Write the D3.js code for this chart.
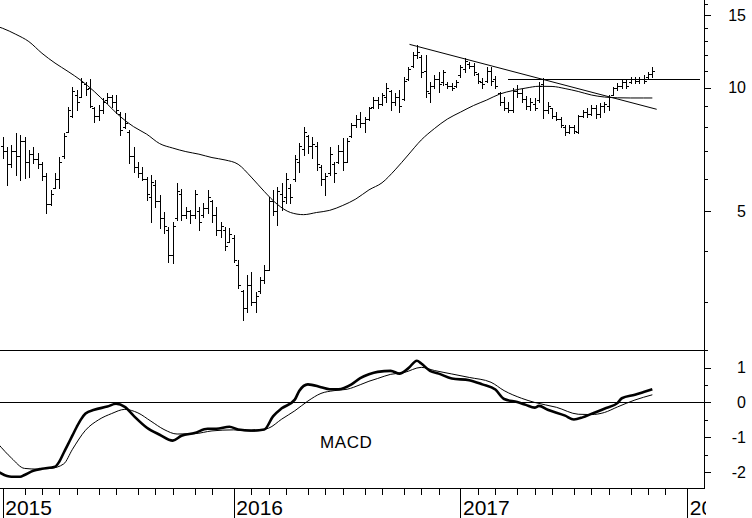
<!DOCTYPE html>
<html><head><meta charset="utf-8">
<script src="https://cdn.jsdelivr.net/npm/d3@7"></script>
<style>
html,body{margin:0;padding:0;background:#fff;}
svg{display:block;font-family:"Liberation Sans",Arial,sans-serif;}
</style></head><body>
<svg id="chart" width="752" height="518"></svg>
<script>
// ---- weekly OHLC (bar index 0 = first week of 2015) ----
const openP = [7.2,7.0,6.5,7.0,6.8,7.4,6.6,6.9,6.7,6.5,
6.1,5.2,5.7,6.0,6.8,7.8,8.5,9.6,9.5,10.2,
10.0,8.9,8.5,8.8,9.3,9.5,9.2,8.6,8.0,7.8,
6.8,6.4,6.2,6.0,5.4,5.8,5.3,4.8,4.5,3.9,
4.8,5.5,4.9,5.0,4.9,5.0,4.9,5.1,5.3,4.9,
4.5,4.5,4.2,4.3,3.7,3.2,2.9,3.3,3.0,3.2,
3.4,3.6,5.3,5.0,5.5,5.4,5.7,6.0,6.6,7.1,
7.6,7.2,7.2,6.4,6.0,6.2,6.5,6.6,7.0,6.6,
7.6,8.1,8.4,8.2,8.4,8.95,9.3,9.1,9.5,9.8,
9.2,9.5,9.4,10.5,11.3,12.0,11.9,11.0,9.7,10.1,
10.5,10.3,10.2,10.1,10.1,10.7,11.1,11.4,11.3,10.8,
10.3,10.4,11.0,10.5,9.7,9.2,8.9,8.8,9.8,9.7,
9.4,9.0,9.1,9.3,10.2,8.8,8.9,8.5,8.4,8.0,
7.8,8.0,7.8,8.5,8.7,8.6,8.9,8.6,9.0,9.0,
9.6,9.95,10.1,10.3,10.3,10.5,10.4,10.5,10.6,10.8];
const highP = [7.58,7.16,7.24,7.75,7.66,7.58,7.04,7.16,6.93,6.58,
6.19,5.63,6.19,6.78,7.75,8.94,10.03,9.86,10.55,10.32,
10.49,8.96,9.06,9.43,9.70,9.59,9.59,8.72,8.67,7.88,
7.16,6.58,6.40,6.05,6.12,5.95,5.47,4.97,4.57,4.70,
5.85,5.66,5.11,5.03,5.63,5.11,5.23,5.63,5.32,5.11,
4.70,4.57,4.54,4.37,3.80,3.21,3.49,3.55,3.17,3.45,
3.69,5.41,5.63,5.72,5.85,6.19,5.82,6.85,7.32,8.01,
7.66,7.58,7.37,6.47,6.19,7.16,6.58,7.24,7.54,7.54,
8.19,8.57,8.72,8.47,8.96,9.48,9.48,9.70,10.25,9.86,
9.70,9.86,10.61,11.22,12.21,12.69,12.00,12.00,10.32,10.73,
10.91,11.03,10.32,10.26,10.43,11.34,11.80,11.53,11.47,10.85,
10.55,11.22,11.22,10.67,9.75,9.48,9.22,9.97,10.14,9.92,
9.54,9.43,9.43,10.32,10.55,9.22,8.91,8.72,8.47,8.10,
8.10,8.10,8.57,8.82,8.91,9.06,9.06,9.16,9.22,9.59,
10.03,10.26,10.43,10.43,10.61,10.61,10.61,10.73,10.91,11.22];
const lowP = [6.74,5.79,6.40,6.12,5.95,6.02,6.05,6.55,6.37,5.95,
4.95,5.17,5.69,5.69,6.74,7.79,8.47,8.82,9.48,9.59,
8.96,8.24,8.33,8.67,9.16,8.96,8.67,7.66,7.97,6.55,
6.23,6.05,5.95,5.32,4.70,5.11,4.54,4.42,3.76,3.73,
4.75,4.75,4.81,4.67,4.81,4.49,4.84,4.95,4.70,4.37,
4.32,4.02,4.20,3.76,3.25,2.71,2.84,2.95,2.84,3.15,
3.34,3.59,4.89,4.62,5.03,5.23,5.23,5.92,6.23,6.85,
6.93,6.74,6.30,5.79,5.47,6.12,5.88,6.55,6.30,6.58,
7.58,8.01,8.01,7.79,8.33,8.91,8.91,9.06,9.22,8.82,
9.06,8.72,9.32,10.43,11.22,11.80,10.61,9.48,9.22,9.97,
9.75,10.14,9.97,9.86,10.03,10.61,10.91,11.16,10.73,10.26,
9.97,10.32,10.14,9.97,9.06,8.82,8.72,8.72,9.48,9.22,
8.87,8.82,8.82,9.22,8.43,8.67,8.43,8.33,8.01,7.66,
7.75,7.75,7.75,8.47,8.47,8.57,8.43,8.47,8.72,8.82,
9.59,9.86,9.97,9.97,10.26,10.26,10.26,10.26,10.55,10.61];
const closeP = [7.0,6.5,7.0,6.8,7.4,6.6,6.9,6.7,6.5,6.1,
5.2,5.5,6.0,6.6,7.6,8.8,9.8,9.2,10.3,9.9,
9.0,8.5,8.8,9.2,9.5,9.2,8.8,7.9,8.2,6.8,
6.4,6.2,6.0,5.5,5.9,5.3,4.8,4.6,3.9,4.6,
5.6,4.9,5.0,4.9,5.5,4.7,5.1,5.4,4.9,4.5,
4.6,4.1,4.4,3.8,3.3,2.9,3.3,3.0,3.1,3.4,
3.6,5.3,5.0,5.6,5.3,6.0,5.4,6.7,7.2,7.8,
7.2,7.3,6.5,6.0,6.1,6.9,6.2,7.0,6.6,7.4,
8.1,8.4,8.2,8.4,8.9,9.3,9.1,9.6,10.0,9.2,
9.5,9.0,10.4,11.1,12.0,12.2,10.9,9.8,10.1,10.5,
10.2,10.9,10.1,10.0,10.3,11.2,11.6,11.3,10.9,10.4,
10.2,11.0,10.4,10.1,9.2,8.9,8.8,9.8,9.7,9.4,
9.0,9.2,8.9,10.1,8.8,9.0,8.5,8.4,8.1,7.8,
8.0,7.85,8.5,8.7,8.6,8.9,8.6,9.0,9.1,9.5,
9.95,10.1,10.3,10.1,10.5,10.4,10.5,10.4,10.8,11.0];

// ---- moving average (bar index, price) ----
const maIdx = [-1,0,3,6,9,12,15,18,21,24,27,30,33,36,39,42,45,48,51,54,57,60,63,66,69,72,75,78,81,84,87,90,93,96,99,102,105,108,111,114,117,120,123,126,129,132,135,138,141,144,147,149];
const maVal = [14.06,13.94,13.48,12.94,12.12,11.47,10.94,10.40,9.78,9.11,8.49,8.03,7.70,7.30,7.12,6.98,6.88,6.75,6.66,6.50,6.05,5.58,5.19,4.96,4.90,4.96,5.02,5.16,5.35,5.63,5.86,6.30,6.85,7.45,7.94,8.38,8.71,9.04,9.32,9.64,9.83,9.97,10.07,10.06,9.94,9.78,9.59,9.48,9.44,9.43,9.43,9.43];

// ---- MACD (thick) and signal (thin) ----
const macdIdx = [-1,1,2,4,5,7,9,12,13,14,15,16,17,18,19,21,24,26,28,30,33,36,39,41,44,47,49,52,54,57,60,62,64,67,68,70,73,75,77,80,82,84,86,89,91,93,95,96,98,100,103,107,110,113,115,118,120,122,123,125,129,131,133,135,138,141,142,145,147,149];
const macdVal = [-2.00,-2.12,-2.14,-2.14,-2.09,-1.97,-1.91,-1.85,-1.70,-1.45,-1.20,-0.95,-0.70,-0.48,-0.32,-0.21,-0.12,-0.04,-0.13,-0.38,-0.72,-0.93,-1.10,-0.96,-0.88,-0.76,-0.76,-0.70,-0.78,-0.81,-0.78,-0.40,-0.17,0.08,0.33,0.52,0.44,0.38,0.38,0.52,0.70,0.81,0.88,0.91,0.83,0.98,1.20,1.12,0.91,0.83,0.69,0.64,0.52,0.37,0.10,0.01,-0.07,-0.15,-0.10,-0.21,-0.38,-0.49,-0.43,-0.33,-0.18,-0.02,0.12,0.22,0.30,0.38];
const sigIdx = [-1,2,5,8,11,14,16,19,22,25,28,31,34,37,40,44,48,53,57,61,64,67,70,73,76,79,82,84,86,89,92,96,99,103,107,112,115,119,122,127,132,135,138,141,145,149];
const sigVal = [-1.20,-1.60,-1.90,-1.92,-1.90,-1.77,-1.35,-0.80,-0.50,-0.32,-0.20,-0.30,-0.54,-0.78,-0.91,-0.90,-0.82,-0.79,-0.83,-0.74,-0.48,-0.24,0.04,0.26,0.34,0.38,0.51,0.61,0.69,0.81,0.86,1.01,0.92,0.82,0.72,0.58,0.34,0.12,0.00,-0.14,-0.34,-0.35,-0.29,-0.13,0.07,0.22];

// ---- trend lines (bar index, price) ----
const trendDownIdx = [93.3, 150.0];
const trendDownVal = [12.74, 8.85];
const resistIdx = [115.9, 159.9];
const resistVal = [10.48, 10.48];

// ---- axis ticks ----
const monthStarts = [0,5,9,13,17,22,26,31,35,39,44,48,53,57,61,65,70,74,78,83,87,92,96,100,105,109,113,118,122,126,131,135,139,144,148,152,157];
const yearStarts = [0,53,105,157];
const yearLabels = ["2015","2016","2017","2018"];
const priceMajor = [5,10,15];
const priceMinor = [3,4,6,7,8,9,11,12,13,14,16];
const macdMajor = [-2,-1,0,1];
const macdMinor = [-1.5,-0.5,0.5,1.5];

const svg = d3.select("#chart");
const axisX = 704;
const x = d3.scaleLinear().domain([-0.62, 160.85]).range([0, axisX]);
const yP = d3.scaleLog().domain([2.284, 16.34]).range([350.7, 0]);
const yM = d3.scaleLinear().domain([-2.45, 1.49]).range([487.5, 350.7]);

const defs = svg.append("defs");
defs.append("clipPath").attr("id","cMain").append("rect").attr("x",0).attr("y",0).attr("width",axisX).attr("height",350.5);
defs.append("clipPath").attr("id","cMacd").append("rect").attr("x",0).attr("y",351).attr("width",axisX).attr("height",137);
defs.append("clipPath").attr("id","cX").append("rect").attr("x",0).attr("y",480).attr("width",706).attr("height",40);

// main panel
const gMain = svg.append("g").attr("clip-path","url(#cMain)");
const px = i => Math.round(x(i)) + 0.5;
const bars = gMain.append("g").attr("stroke","#000").attr("stroke-width",1).attr("shape-rendering","crispEdges");
highP.forEach((h,i) => {
  const cx = px(i);
  bars.append("line").attr("x1",cx).attr("x2",cx).attr("y1",Math.round(yP(h))).attr("y2",Math.round(yP(lowP[i]))+1);
  const yo = Math.round(yP(openP[i]))+0.5, yc = Math.round(yP(closeP[i]))+0.5;
  bars.append("line").attr("x1",cx-2.5).attr("x2",cx).attr("y1",yo).attr("y2",yo);
  bars.append("line").attr("x1",cx).attr("x2",cx+2.5).attr("y1",yc).attr("y2",yc);
});

const lineP = d3.line().x(d=>x(d[0])).y(d=>yP(d[1])).curve(d3.curveMonotoneX);
gMain.append("path").attr("d", lineP(maIdx.map((d,i)=>[d,maVal[i]])))
  .attr("fill","none").attr("stroke","#000").attr("stroke-width",1);
const lineStraight = d3.line().x(d=>x(d[0])).y(d=>yP(d[1]));
gMain.append("path").attr("d", lineStraight(trendDownIdx.map((d,i)=>[d,trendDownVal[i]])))
  .attr("fill","none").attr("stroke","#000").attr("stroke-width",1);
gMain.append("path").attr("d", lineStraight(resistIdx.map((d,i)=>[d,resistVal[i]])))
  .attr("fill","none").attr("stroke","#000").attr("stroke-width",1).attr("shape-rendering","crispEdges");

// macd panel
const gM = svg.append("g").attr("clip-path","url(#cMacd)");
const lineM = d3.line().x(d=>x(d[0])).y(d=>yM(d[1])).curve(d3.curveMonotoneX);
gM.append("path").attr("d", lineM(sigIdx.map((d,i)=>[d,sigVal[i]])))
  .attr("fill","none").attr("stroke","#000").attr("stroke-width",1);
gM.append("path").attr("d", lineM(macdIdx.map((d,i)=>[d,macdVal[i]])))
  .attr("fill","none").attr("stroke","#000").attr("stroke-width",2.6).attr("stroke-linejoin","round");

// frame lines
const frame = svg.append("g").attr("stroke","#000").attr("stroke-width",1).attr("shape-rendering","crispEdges");
frame.append("line").attr("x1",0).attr("x2",axisX).attr("y1",350.5).attr("y2",350.5);
frame.append("line").attr("x1",0).attr("x2",axisX).attr("y1",Math.round(yM(0))+0.5).attr("y2",Math.round(yM(0))+0.5);
frame.append("line").attr("x1",0).attr("x2",axisX+1).attr("y1",488.5).attr("y2",488.5);
frame.append("line").attr("x1",axisX+0.5).attr("x2",axisX+0.5).attr("y1",0).attr("y2",489);

svg.append("text").attr("x",320).attr("y",447.5).attr("font-size",17).attr("letter-spacing",0.6).text("MACD");

// right axes
function styleAxis(g){
  g.select(".domain").remove();
  g.selectAll("line").attr("shape-rendering","crispEdges");
  g.selectAll("text").attr("x",42).attr("text-anchor","end").attr("font-size",16).attr("fill","#000")
   .attr("font-family","'Liberation Sans',Arial,sans-serif");
}
const plainNum = d => String(d);
svg.append("g").attr("transform",`translate(${axisX},0)`)
  .call(d3.axisRight(yP).tickValues(priceMajor).tickSize(7).tickFormat(plainNum)).call(styleAxis);
svg.append("g").attr("transform",`translate(${axisX},0)`)
  .call(d3.axisRight(yP).tickValues(priceMinor).tickSize(4).tickFormat("")).call(styleAxis);
svg.append("g").attr("transform",`translate(${axisX},0)`)
  .call(d3.axisRight(yM).tickValues(macdMajor).tickSize(7).tickFormat(plainNum)).call(styleAxis);
svg.append("g").attr("transform",`translate(${axisX},0)`)
  .call(d3.axisRight(yM).tickValues(macdMinor).tickSize(4).tickFormat("")).call(styleAxis);

// bottom axis
const gx = svg.append("g").attr("clip-path","url(#cX)");
gx.append("g").attr("transform","translate(0,488)")
  .call(d3.axisBottom(x).tickValues(monthStarts).tickSize(7).tickFormat(""))
  .call(g=>{g.select(".domain").remove(); g.selectAll("line").attr("shape-rendering","crispEdges");});
gx.append("g").attr("transform","translate(0,488)")
  .call(d3.axisBottom(x).tickValues(yearStarts).tickSize(30).tickFormat((d,i)=>yearLabels[i]))
  .call(g=>{
    g.select(".domain").remove();
    g.selectAll("line").attr("shape-rendering","crispEdges");
    g.selectAll("text").attr("text-anchor","start").attr("dy",null).attr("y",27).attr("x",2)
      .attr("font-size",21).attr("fill","#000").attr("font-family","'Liberation Sans',Arial,sans-serif");
  });
</script>
</body></html>
